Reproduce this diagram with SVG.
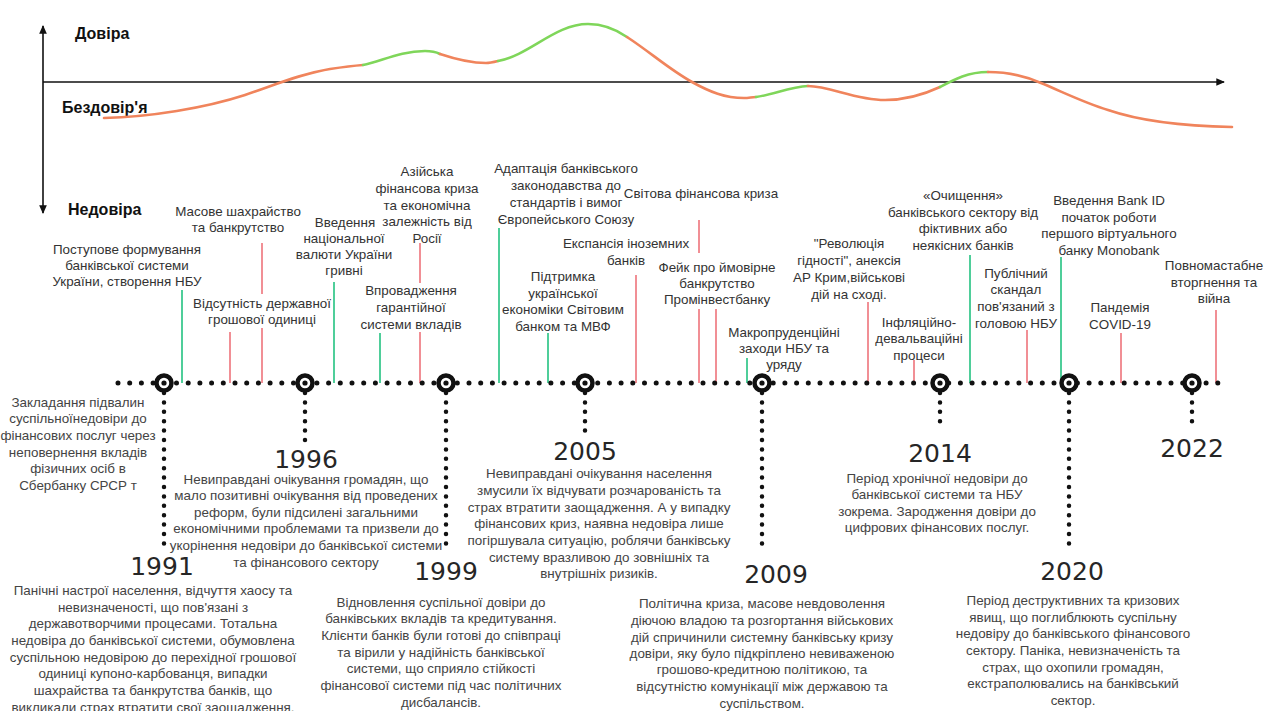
<svg xmlns="http://www.w3.org/2000/svg" width="1268" height="711" viewBox="0 0 1268 711">
  <defs>
    <style>
      .ax { font-family: "Liberation Sans", Arial, sans-serif; font-weight: bold; font-size: 16px; fill: #111; }
      .lbl { font-family: "Liberation Sans", Arial, sans-serif; font-size: 13.4px; fill: #333; text-anchor: middle; }
      .body { font-family: "Liberation Sans", Arial, sans-serif; font-size: 13.4px; fill: #444; text-anchor: middle; }
      .yr { font-family: "DejaVu Sans", sans-serif; font-size: 25px; fill: #262626; text-anchor: middle; }
      .axis { stroke: #111; stroke-width: 1.6; fill: none; }
      .up { stroke: #f0845c; stroke-width: 2.6; fill: none; stroke-linecap: round; }
      .gp { stroke: #7fd65a; stroke-width: 2.6; fill: none; stroke-linecap: round; }
      .tg { stroke: #3cc98f; stroke-width: 1.8; }
      .tr { stroke: #ec6a72; stroke-width: 1.5; }
      .hdots { stroke: #111; stroke-width: 5; stroke-linecap: round; stroke-dasharray: 0 11.7; fill: none; }
      .vdots { stroke: #111; stroke-width: 4.5; stroke-linecap: round; stroke-dasharray: 0 9.4; fill: none; }
      .ring { fill: #fff; stroke: #111; stroke-width: 4.5; }
      .pin { fill: #111; }
    </style>
    <marker id="arr" viewBox="0 0 10 10" refX="8" refY="5" markerWidth="6" markerHeight="6" orient="auto-start-reverse">
      <path d="M0,1 L9,5 L0,9 Z" fill="#111"/>
    </marker>
  </defs>

  <rect width="1268" height="711" fill="#fff"/>

  <!-- trust axes -->
  <g id="axes">
    <line class="axis" x1="43" y1="213" x2="43" y2="26" marker-end="url(#arr)" marker-start="url(#arr)"/>
    <line class="axis" x1="43" y1="82" x2="1224" y2="82" stroke-width="2" marker-end="url(#arr)"/>
    <text class="ax" x="75" y="39">Довіра</text>
    <text class="ax" x="62" y="113">Бездовір'я</text>
    <text class="ax" x="68" y="215">Недовіра</text>
  </g>

  <!-- trust curve: orange = falling/low, green = rising -->
  <g id="trust-curve">
    <path class="up" d="M104,118 C150,117 205,108 245,95 C275,85 300,74 330,69 Q350,66 363,65"/>
    <path class="gp" d="M363,65 C380,62 400,51 425,51 C432,51 436,52 440,54"/>
    <path class="up" d="M440,54 C455,59 470,63 486,63 C490,63 494,62 498,61"/>
    <path class="gp" d="M498,61 C530,55 555,24 588,24 C605,24 617,30 627,37"/>
    <path class="up" d="M627,37 C650,52 670,70 692,82 C710,92 725,98 744,98 C749,98 752,97 756,97"/>
    <path class="gp" d="M756,97 C772,95 790,87 808,86"/>
    <path class="up" d="M808,86 C830,86 855,100 885,100 C905,100 925,94 940,87"/>
    <path class="gp" d="M940,87 C955,79 968,72 988,72"/>
    <path class="up" d="M988,72 C1010,72 1025,76 1041,83 C1065,93 1085,103 1108,110 C1140,121 1180,126 1232,127"/>
  </g>

  <!-- connectors: event ticks, timeline and year drop lines -->
  <g id="connectors">
    <line class="tg" x1="182" y1="290" x2="182" y2="383"/>
    <line class="tr" x1="262" y1="243" x2="262" y2="294"/>
    <line class="tr" x1="262" y1="328" x2="262" y2="383"/>
    <line class="tr" x1="230" y1="332" x2="230" y2="383"/>
    <line class="tg" x1="334" y1="282" x2="334" y2="383"/>
    <line class="tr" x1="420" y1="243" x2="420" y2="283"/>
    <line class="tr" x1="420" y1="332" x2="420" y2="383"/>
    <line class="tg" x1="380" y1="333" x2="380" y2="383"/>
    <line class="tg" x1="499" y1="228" x2="499" y2="383"/>
    <line class="tg" x1="548" y1="333" x2="548" y2="383"/>
    <line class="tr" x1="636" y1="275" x2="636" y2="383"/>
    <line class="tr" x1="699" y1="220" x2="699" y2="253"/>
    <line class="tr" x1="699" y1="309" x2="699" y2="383"/>
    <line class="tr" x1="716" y1="309" x2="716" y2="383"/>
    <line class="tg" x1="747" y1="358" x2="747" y2="383"/>
    <line class="tr" x1="868" y1="302" x2="868" y2="383"/>
    <line class="tr" x1="914" y1="360" x2="914" y2="383"/>
    <line class="tg" x1="970" y1="255" x2="970" y2="383"/>
    <line class="tr" x1="1027" y1="330" x2="1027" y2="383"/>
    <line class="tg" x1="1061" y1="257" x2="1061" y2="383"/>
    <line class="tr" x1="1121" y1="333" x2="1121" y2="383"/>
    <line class="tr" x1="1216" y1="310" x2="1216" y2="383"/>

    <line class="hdots" x1="118" y1="383" x2="1222" y2="383"/>

    <line class="vdots" x1="164" y1="393" x2="164" y2="544"/>
    <line class="vdots" x1="305" y1="393" x2="305" y2="442"/>
    <line class="vdots" x1="446" y1="393" x2="446" y2="548"/>
    <line class="vdots" x1="585" y1="393" x2="585" y2="433"/>
    <line class="vdots" x1="762" y1="393" x2="762" y2="544"/>
    <line class="vdots" x1="940" y1="393" x2="940" y2="430"/>
    <line class="vdots" x1="1069" y1="393" x2="1069" y2="544"/>
    <line class="vdots" x1="1192" y1="393" x2="1192" y2="430"/>
  </g>

  <!-- event labels above the timeline -->
  <g id="ev-nbu">
    <text class="lbl"><tspan x="127" y="254">Поступове формування</tspan><tspan x="127" y="270">банківської системи</tspan><tspan x="127" y="286">України, створення НБУ</tspan></text>
  </g>
  <g id="ev-fraud">
    <text class="lbl"><tspan x="238" y="216">Масове шахрайство</tspan><tspan x="238" y="232">та банкрутство</tspan></text>
  </g>
  <g id="ev-no-currency">
    <text class="lbl"><tspan x="262" y="308">Відсутність державної</tspan><tspan x="262" y="324">грошової одиниці</tspan></text>
  </g>
  <g id="ev-hryvnia">
    <text class="lbl"><tspan x="345" y="227">Введення</tspan><tspan x="344" y="243">національної</tspan><tspan x="344" y="259">валюти України</tspan><tspan x="344" y="275">гривні</tspan></text>
  </g>
  <g id="ev-asia">
    <text class="lbl"><tspan x="427" y="176">Азійська</tspan><tspan x="427" y="193">фінансова криза</tspan><tspan x="427" y="210">та економічна</tspan><tspan x="427" y="226">залежність від</tspan><tspan x="427" y="243">Росії</tspan></text>
  </g>
  <g id="ev-deposit-guarantee">
    <text class="lbl"><tspan x="411" y="295">Впровадження</tspan><tspan x="411" y="312">гарантійної</tspan><tspan x="411" y="329">системи вкладів</tspan></text>
  </g>
  <g id="ev-eu">
    <text class="lbl"><tspan x="566" y="173">Адаптація банківського</tspan><tspan x="566" y="190">законодавства до</tspan><tspan x="566" y="207">стандартів і вимог</tspan><tspan x="566" y="224">Європейського Союзу</tspan></text>
  </g>
  <g id="ev-imf">
    <text class="lbl"><tspan x="563" y="281">Підтримка</tspan><tspan x="563" y="298">української</tspan><tspan x="563" y="314">економіки Світовим</tspan><tspan x="563" y="331">банком та МВФ</tspan></text>
  </g>
  <g id="ev-foreign-banks">
    <text class="lbl"><tspan x="626" y="248">Експансія іноземних</tspan><tspan x="626" y="265">банків</tspan></text>
  </g>
  <g id="ev-world-crisis">
    <text class="lbl"><tspan x="701" y="198">Світова фінансова криза</tspan></text>
  </g>
  <g id="ev-fake">
    <text class="lbl"><tspan x="717" y="272">Фейк про ймовірне</tspan><tspan x="717" y="288">банкрутство</tspan><tspan x="717" y="304">Промінвестбанку</tspan></text>
  </g>
  <g id="ev-macroprudential">
    <text class="lbl"><tspan x="784" y="337">Макропруденційні</tspan><tspan x="784" y="353">заходи НБУ та</tspan><tspan x="784" y="369">уряду</tspan></text>
  </g>
  <g id="ev-revolution">
    <text class="lbl"><tspan x="849" y="248">"Революція</tspan><tspan x="849" y="265">гідності", анексія</tspan><tspan x="849" y="282">АР Крим,військові</tspan><tspan x="849" y="299">дій на сході.</tspan></text>
  </g>
  <g id="ev-inflation">
    <text class="lbl"><tspan x="919" y="327">Інфляційно-</tspan><tspan x="919" y="343">девальваційні</tspan><tspan x="919" y="360">процеси</tspan></text>
  </g>
  <g id="ev-cleanup">
    <text class="lbl"><tspan x="963" y="200">«Очищення»</tspan><tspan x="963" y="217">банківського сектору від</tspan><tspan x="963" y="233">фіктивних або</tspan><tspan x="963" y="250">неякісних банків</tspan></text>
  </g>
  <g id="ev-scandal">
    <text class="lbl"><tspan x="1016" y="278">Публічний</tspan><tspan x="1016" y="294">скандал</tspan><tspan x="1016" y="311">пов'язаний з</tspan><tspan x="1016" y="328">головою НБУ</tspan></text>
  </g>
  <g id="ev-bankid">
    <text class="lbl"><tspan x="1109" y="205">Введення Bank ID</tspan><tspan x="1109" y="222">початок роботи</tspan><tspan x="1109" y="238">першого віртуального</tspan><tspan x="1109" y="255">банку Monobank</tspan></text>
  </g>
  <g id="ev-covid">
    <text class="lbl"><tspan x="1120" y="312">Пандемія</tspan><tspan x="1120" y="329">COVID-19</tspan></text>
  </g>
  <g id="ev-war">
    <text class="lbl"><tspan x="1214" y="270">Повномастабне</tspan><tspan x="1214" y="287">вторгнення та</tspan><tspan x="1214" y="303">війна</tspan></text>
  </g>

  <!-- year nodes: marker, year and period description -->
  <g id="y1991">
    <circle class="ring" cx="164" cy="383" r="7.5"/><circle class="pin" cx="164" cy="383" r="2.6"/>
    <text class="body"><tspan x="78" y="407">Закладання підвалин</tspan><tspan x="78" y="423">суспільноїнедовіри до</tspan><tspan x="78" y="440">фінансових послуг через</tspan><tspan x="78" y="457">неповернення вкладів</tspan><tspan x="78" y="473">фізичних осіб в</tspan><tspan x="78" y="490">Сбербанку СРСР т</tspan></text>
    <text class="yr" x="162" y="575">1991</text>
    <text class="body"><tspan x="153" y="595">Панічні настрої населення, відчуття хаосу та</tspan><tspan x="153" y="612">невизначеності, що пов'язані з</tspan><tspan x="153" y="628">державотворчими процесами. Тотальна</tspan><tspan x="153" y="645">недовіра до банківської системи, обумовлена</tspan><tspan x="153" y="662">суспільною недовірою до перехідної грошової</tspan><tspan x="153" y="678">одиниці купоно-карбованця, випадки</tspan><tspan x="153" y="695">шахрайства та банкрутства банків, що</tspan><tspan x="153" y="712">викликали страх  втратити свої заощадження.</tspan></text>
  </g>
  <g id="y1996">
    <circle class="ring" cx="305" cy="383" r="7.5"/><circle class="pin" cx="305" cy="383" r="2.6"/>
    <text class="yr" x="306" y="468">1996</text>
    <text class="body"><tspan x="306" y="484">Невиправдані очікування громадян, що</tspan><tspan x="306" y="500">мало позитивні очікування від проведених</tspan><tspan x="306" y="517">реформ, були підсилені загальними</tspan><tspan x="306" y="533">економічними проблемами та призвели до</tspan><tspan x="306" y="550">укорінення недовіри до банківської системи</tspan><tspan x="306" y="567">та фінансового сектору</tspan></text>
  </g>
  <g id="y1999">
    <circle class="ring" cx="446" cy="383" r="7.5"/><circle class="pin" cx="446" cy="383" r="2.6"/>
    <text class="yr" x="446" y="580">1999</text>
    <text class="body"><tspan x="441" y="607">Відновлення суспільної довіри до</tspan><tspan x="441" y="623">банківських вкладів та кредитування.</tspan><tspan x="441" y="640">Клієнти банків були готові до співпраці</tspan><tspan x="441" y="657">та вірили у надійність банківської</tspan><tspan x="441" y="673">системи, що сприяло стійкості</tspan><tspan x="441" y="690">фінансової системи під час політичних</tspan><tspan x="441" y="707">дисбалансів.</tspan></text>
  </g>
  <g id="y2005">
    <circle class="ring" cx="585" cy="383" r="7.5"/><circle class="pin" cx="585" cy="383" r="2.6"/>
    <text class="yr" x="585" y="460">2005</text>
    <text class="body"><tspan x="599" y="478">Невиправдані очікування населення</tspan><tspan x="599" y="495">змусили їх відчувати  розчарованість та</tspan><tspan x="599" y="512">страх втратити заощадження. А у випадку</tspan><tspan x="599" y="528">фінансових криз, наявна недовіра лише</tspan><tspan x="599" y="545">погіршувала ситуацію, роблячи банківську</tspan><tspan x="599" y="562">систему вразливою до зовнішніх та</tspan><tspan x="599" y="578">внутрішніх ризиків.</tspan></text>
  </g>
  <g id="y2009">
    <circle class="ring" cx="762" cy="383" r="7.5"/><circle class="pin" cx="762" cy="383" r="2.6"/>
    <text class="yr" x="776" y="583">2009</text>
    <text class="body"><tspan x="762" y="608">Політична криза, масове невдоволення</tspan><tspan x="762" y="625">діючою владою та розгортання військових</tspan><tspan x="762" y="642">дій спричинили системну банківську кризу</tspan><tspan x="762" y="658">довіри, яку було підкріплено невиваженою</tspan><tspan x="762" y="674">грошово-кредитною політикою, та</tspan><tspan x="762" y="691">відсутністю комунікації між державою та</tspan><tspan x="762" y="708">суспільством.</tspan></text>
  </g>
  <g id="y2014">
    <circle class="ring" cx="940" cy="383" r="7.5"/><circle class="pin" cx="940" cy="383" r="2.6"/>
    <text class="yr" x="940" y="462">2014</text>
    <text class="body"><tspan x="937" y="483">Період хронічної недовіри до</tspan><tspan x="937" y="499">банківської системи та НБУ</tspan><tspan x="937" y="516">зокрема. Зародження довіри до</tspan><tspan x="937" y="532">цифрових фінансових послуг.</tspan></text>
  </g>
  <g id="y2020">
    <circle class="ring" cx="1069" cy="383" r="7.5"/><circle class="pin" cx="1069" cy="383" r="2.6"/>
    <text class="yr" x="1072" y="580">2020</text>
    <text class="body"><tspan x="1073" y="605">Період деструктивних та кризових</tspan><tspan x="1073" y="622">явищ, що поглиблюють суспільну</tspan><tspan x="1073" y="638">недовіру до банківського фінансового</tspan><tspan x="1073" y="655">сектору. Паніка, невизначеність та</tspan><tspan x="1073" y="672">страх, що охопили громадян,</tspan><tspan x="1073" y="688">екстраполювались на банківський</tspan><tspan x="1073" y="705">сектор.</tspan></text>
  </g>
  <g id="y2022">
    <circle class="ring" cx="1192" cy="383" r="7.5"/><circle class="pin" cx="1192" cy="383" r="2.6"/>
    <text class="yr" x="1192" y="457">2022</text>
  </g>
</svg>
